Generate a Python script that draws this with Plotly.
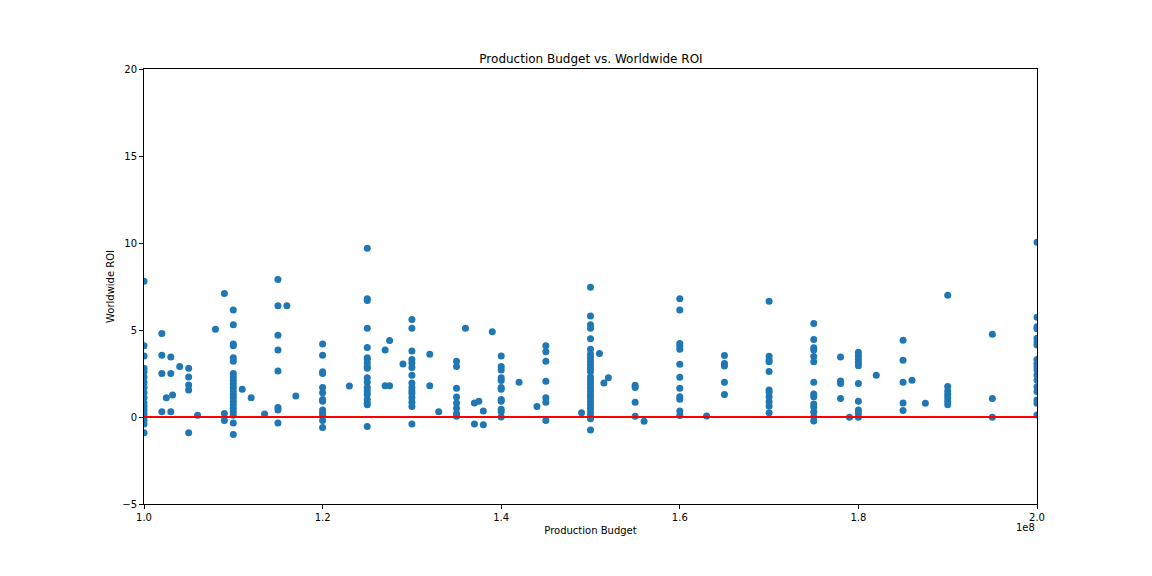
import plotly.graph_objects as go

# production budgets (USD) and worldwide ROI of the films at each budget
budgets = [
    100e6, 102e6, 102.5e6, 103e6, 103.2e6, 104e6, 105e6, 106e6, 108e6, 109e6,
    110e6, 111e6, 112e6, 113.5e6, 115e6, 116e6, 117e6, 120e6, 123e6, 125e6,
    127e6, 127.5e6, 129e6, 130e6, 132e6, 133e6, 135e6, 136e6, 137e6, 137.5e6,
    138e6, 139e6, 140e6, 142e6, 144e6, 145e6, 149e6, 150e6, 151e6, 151.5e6,
    152e6, 155e6, 156e6, 160e6, 163e6, 165e6, 170e6, 175e6, 178e6, 179e6,
    180e6, 182e6, 185e6, 186e6, 187.5e6, 190e6, 195e6, 200e6,
]

roi = [
    [7.8, 4.1, 3.5, 2.8, 2.6, 2.3, 2.0, 1.7, 1.4, 1.1, 0.8, 0.6, 0.4, 0.2, 0.0, -0.2, -0.4, -0.9],
    [4.8, 3.55, 2.5, 0.3],
    [1.1],
    [3.45, 2.5, 0.3],
    [1.26],
    [2.9],
    [2.8, 2.3, 1.84, 1.55, -0.9],
    [0.1],
    [5.05],
    [7.1, 0.2, -0.2],
    [6.15, 5.3, 4.2, 4.1, 3.4, 3.2, 2.5, 2.3, 2.1, 1.9, 1.7, 1.5, 1.3, 1.1, 0.9, 0.7, 0.5, 0.3, 0.1, -0.35, -1.0],
    [1.6],
    [1.1],
    [0.17],
    [7.9, 6.4, 4.7, 3.85, 2.65, 0.55, 0.4, -0.35],
    [6.4],
    [1.2],
    [4.2, 3.55, 2.6, 2.5, 1.7, 1.4, 1.0, 0.9, 0.4, 0.25, 0.1, -0.2, -0.6],
    [1.78],
    [9.7, 6.8, 6.7, 5.1, 4.0, 3.4, 3.3, 3.1, 2.9, 2.8, 2.25, 2.0, 1.7, 1.5, 1.3, 1.0, 0.8, 0.7, -0.55],
    [3.85, 1.8],
    [4.4, 1.8],
    [3.05],
    [5.6, 5.1, 3.8, 3.3, 3.1, 2.85, 2.4, 1.96, 1.7, 1.5, 1.35, 1.1, 0.85, 0.6, -0.4],
    [3.6, 1.8],
    [0.3],
    [3.2, 2.9, 1.65, 1.15, 0.8, 0.5, 0.2, 0.05],
    [5.1],
    [0.8, -0.4],
    [0.9],
    [0.35, -0.45],
    [4.9],
    [3.5, 2.9, 2.7, 2.25, 2.1, 1.7, 1.6, 1.0, 0.9, 0.45, 0.3, 0.0],
    [2.0],
    [0.6],
    [4.1, 3.75, 3.2, 2.05, 1.1, 0.85, -0.2],
    [0.25],
    [7.45, 5.8, 5.3, 5.1, 4.5, 3.9, 3.6, 3.4, 3.2, 3.0, 2.8, 2.6, 2.3, 2.1, 1.9, 1.7, 1.5, 1.3,
     1.1, 0.9, 0.7, 0.5, 0.3, 0.1, -0.1, -0.75],
    [3.65],
    [1.95],
    [2.25],
    [1.83, 1.7, 0.85, 0.05],
    [-0.25],
    [6.8, 6.15, 4.23, 4.08, 3.9, 3.03, 2.28, 1.65, 1.17, 1.02, 0.35, 0.08],
    [0.06],
    [3.54, 3.08, 2.93, 1.99, 1.3],
    [6.65, 3.49, 3.28, 3.18, 2.62, 1.55, 1.42, 1.17, 0.88, 0.63, 0.25],
    [5.38, 4.46, 3.98, 3.85, 3.47, 3.18, 1.99, 1.32, 1.17, 0.75, 0.56, 0.29, 0.02, -0.23],
    [3.45, 2.07, 1.93, 1.07],
    [-0.02],
    [3.72, 3.52, 3.33, 3.14, 2.95, 1.93, 0.9, 0.4, 0.21, -0.02],
    [2.4],
    [4.41, 3.26, 1.99, 0.8, 0.38],
    [2.11],
    [0.79],
    [6.99, 1.76, 1.5, 1.3, 1.1, 0.9, 0.7],
    [4.75, 1.07, -0.02],
    [10.04, 5.73, 5.19, 5.07, 4.52, 4.33, 4.14, 3.31, 3.08, 2.89, 2.7, 2.41, 2.13,
     1.74, 1.46, 0.98, 0.79, 0.11],
]

x_ticks = [1.0e8, 1.2e8, 1.4e8, 1.6e8, 1.8e8, 2.0e8]
x_tick_labels = ["1.0", "1.2", "1.4", "1.6", "1.8", "2.0"]
y_ticks = [-5, 0, 5, 10, 15, 20]

xs, ys = [], []
for b, vals in zip(budgets, roi):
    for v in vals:
        xs.append(b)
        ys.append(v)

font = "DejaVu Sans"

scatter = go.Scatter(
    x=xs, y=ys, mode="markers",
    marker=dict(color="#1f77b4", size=7, line=dict(width=0)),
    hoverinfo="x+y",
)
zero_line = go.Scatter(
    x=[x_ticks[0], x_ticks[-1]], y=[0, 0], mode="lines",
    line=dict(color="red", width=2), hoverinfo="skip",
)

axis_style = dict(
    showgrid=False, zeroline=False, showline=True, linecolor="black",
    linewidth=1, mirror=True, ticks="outside", ticklen=4, tickcolor="black",
    tickfont=dict(family=font, size=10, color="black"),
)

layout = go.Layout(
    width=1152, height=576,
    paper_bgcolor="white", plot_bgcolor="white",
    margin=dict(l=136, r=123, t=61, b=80),
    showlegend=False,
    title=dict(text="Production Budget vs. Worldwide ROI", x=(136 + 447) / 1152, xanchor="center",
               y=1 - 51 / 576, yanchor="middle",
               font=dict(family=font, size=12, color="black")),
    xaxis=dict(axis_style, range=[1.0e8, 2.0e8], tickvals=x_ticks, ticktext=x_tick_labels,
               title=dict(text="Production Budget", font=dict(family=font, size=10, color="black"),
                          standoff=4)),
    yaxis=dict(axis_style, range=[-5, 20], tickvals=y_ticks,
               title=dict(text="Worldwide ROI", font=dict(family=font, size=10, color="black"),
                          standoff=5)),
    annotations=[dict(text="1e8", xref="paper", yref="paper", x=1, y=0, xanchor="right",
                      yanchor="top", yshift=-16, showarrow=False,
                      font=dict(family=font, size=10, color="black"))],
)

fig = go.Figure(data=[scatter, zero_line], layout=layout)
fig.write_html("out.html")
